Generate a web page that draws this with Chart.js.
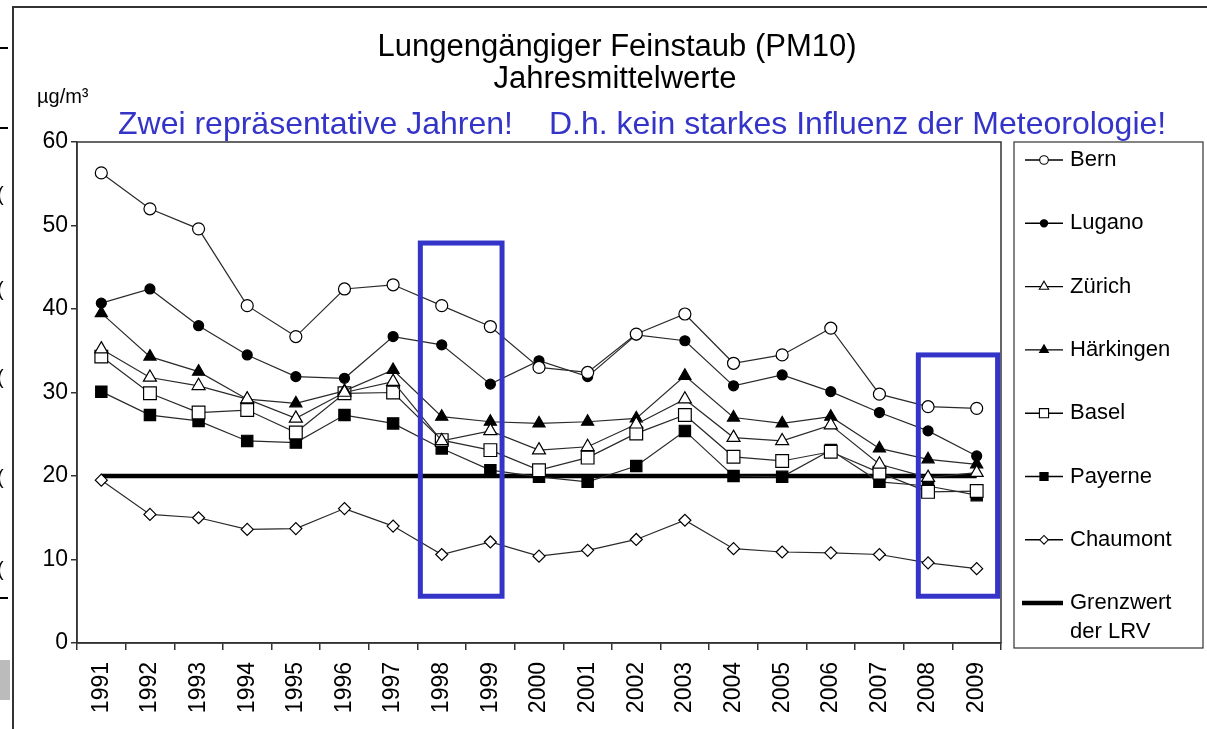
<!DOCTYPE html>
<html>
<head>
<meta charset="utf-8">
<script src="https://cdn.jsdelivr.net/npm/chart.js@4.4.1/dist/chart.umd.min.js"></script>
<style>
  html, body { margin: 0; padding: 0; background: #fff; }
  #wrap { position: relative; width: 1207px; height: 729px; }
</style>
</head>
<body>
<div id="wrap"><canvas id="pmChart" width="1207" height="729"></canvas></div>
<script>
// Daten: Jahresmittelwerte PM10 (µg/m³)
const years = ['1991','1992','1993','1994','1995','1996','1997','1998','1999','2000',
               '2001','2002','2003','2004','2005','2006','2007','2008','2009'];
const bern      = [56.3, 52.0, 49.6, 40.4, 36.7, 42.4, 42.9, 40.4, 37.9, 33.0, 32.4, 37.0, 39.4, 33.5, 34.5, 37.7, 29.8, 28.3, 28.1];
const lugano    = [40.7, 42.4, 38.0, 34.5, 31.9, 31.7, 36.7, 35.7, 31.0, 33.8, 31.9, 36.9, 36.2, 30.8, 32.1, 30.1, 27.6, 25.4, 22.4];
const zuerich   = [35.2, 31.8, 30.8, 29.2, 26.9, 30.0, 31.3, 24.2, 25.4, 23.1, 23.5, 26.2, 29.2, 24.6, 24.2, 26.1, 21.4, 19.8, 20.4];
const haerkingen= [39.5, 34.3, 32.5, 29.2, 28.7, 30.2, 32.7, 27.1, 26.5, 26.3, 26.5, 26.9, 32.0, 27.0, 26.3, 27.1, 23.3, 22.0, 21.4];
const basel     = [34.3, 29.9, 27.6, 27.9, 25.2, 29.9, 30.0, 24.3, 23.1, 20.7, 22.2, 25.1, 27.3, 22.3, 21.8, 22.9, 20.4, 18.1, 18.2];
const payerne   = [30.1, 27.3, 26.6, 24.2, 24.0, 27.3, 26.3, 23.3, 20.7, 19.9, 19.3, 21.2, 25.4, 20.0, 19.9, 23.1, 19.3, 18.8, 17.7];
const chaumont  = [19.5, 15.4, 15.0, 13.6, 13.7, 16.1, 14.0, 10.6, 12.1, 10.4, 11.1, 12.4, 14.7, 11.3, 10.9, 10.8, 10.6,  9.6,  8.9];
const grenzwert = [20, 20, 20, 20, 20, 20, 20, 20, 20, 20, 20, 20, 20, 20, 20, 20, 20, 20, 20];
const yTicks = [0, 10, 20, 30, 40, 50, 60];

// blaue Markierungsrahmen (Kategorie-Index bzw. Wert)
const boxStart  = [6.56, 16.8];
const boxEnd    = [8.24, 18.43];
const boxTop    = [47.9, 34.5];
const boxBottom = [5.6, 5.6];

const FONT = "'Liberation Sans', Arial, sans-serif";
const BLUE = '#3434c8';

function series(label, data, style, radius, filled) {
  return {
    label: label,
    data: data,
    borderColor: '#2a2a2a',
    borderWidth: 1.2,
    pointStyle: style,
    pointRadius: radius,
    pointHoverRadius: radius,
    pointBackgroundColor: filled ? '#000' : '#fff',
    pointBorderColor: '#000',
    pointBorderWidth: 1.2,
    tension: 0
  };
}

const datasets = [
  series('Bern', bern, 'circle', 6, false),
  series('Lugano', lugano, 'circle', 5, true),
  series('Zürich', zuerich, 'triangle', 7.5, false),
  series('Härkingen', haerkingen, 'triangle', 7, true),
  series('Basel', basel, 'rect', 9, false),
  series('Payerne', payerne, 'rect', 8, true),
  series('Chaumont', chaumont, 'rectRot', 6, false),
  {
    label: 'Grenzwert der LRV',
    data: grenzwert,
    borderColor: '#000',
    borderWidth: 4.5,
    pointRadius: 0,
    pointHoverRadius: 0,
    tension: 0
  }
];

// Seitenrahmen, Titel, Plotrahmen, blaue Rahmen, Legende
const decorPlugin = {
  id: 'decor',
  afterDraw(chart) {
    const ctx = chart.ctx;
    const a = chart.chartArea;
    const xs = chart.scales.x, ys = chart.scales.y;
    ctx.save();

    // Folienrahmen
    ctx.strokeStyle = '#333';
    ctx.lineWidth = 2;
    ctx.beginPath();
    ctx.moveTo(13, 729); ctx.lineTo(13, 7); ctx.lineTo(1207, 7);
    ctx.stroke();
    ctx.fillStyle = '#000';
    [48, 128, 598].forEach(y => ctx.fillRect(0, y - 1, 8, 2));
    ctx.fillStyle = '#bbb';
    ctx.fillRect(0, 660, 10, 40);
    ctx.fillStyle = '#000';
    ctx.font = '20px ' + FONT;
    ctx.textAlign = 'left';
    ctx.textBaseline = 'middle';
    [195, 290, 378, 478, 570].forEach(y => ctx.fillText('(', -3, y));

    // Plotrahmen
    ctx.strokeStyle = '#333';
    ctx.lineWidth = 1.5;
    ctx.strokeRect(a.left, a.top, a.right - a.left, a.bottom - a.top);

    // Titel
    ctx.fillStyle = '#000';
    ctx.textAlign = 'center';
    ctx.textBaseline = 'alphabetic';
    ctx.font = '31px ' + FONT;
    ctx.fillText('Lungengängiger Feinstaub (PM10)', 617, 56);
    ctx.fillText('Jahresmittelwerte', 615, 88);
    ctx.textAlign = 'left';
    ctx.font = '20px ' + FONT;
    ctx.fillText('µg/m³', 37, 103);

    ctx.fillStyle = BLUE;
    ctx.font = '32px ' + FONT;
    ctx.fillText('Zwei repräsentative Jahren!', 118, 134);
    ctx.fillText('D.h. kein starkes Influenz der Meteorologie!', 549, 134);

    // blaue Rahmen
    ctx.strokeStyle = BLUE;
    ctx.lineWidth = 5;
    for (let i = 0; i < boxStart.length; i++) {
      const x1 = xs.getPixelForValue(boxStart[i]);
      const x2 = xs.getPixelForValue(boxEnd[i]);
      const y1 = ys.getPixelForValue(boxTop[i]);
      const y2 = ys.getPixelForValue(boxBottom[i]);
      ctx.strokeRect(x1, y1, x2 - x1, y2 - y1);
    }

    // Legende
    const lx = a.right + 13, ly = a.top, lw = 189, lh = 506;
    ctx.strokeStyle = '#333';
    ctx.lineWidth = 1.2;
    ctx.strokeRect(lx, ly, lw, lh);
    ctx.font = '22px ' + FONT;
    ctx.textBaseline = 'middle';
    chart.data.datasets.forEach((ds, i) => {
      const cy = ly + 18 + i * 63.3;
      ctx.strokeStyle = '#000';
      ctx.lineWidth = ds.pointRadius ? 1.4 : ds.borderWidth;
      ctx.beginPath();
      ctx.moveTo(lx + (ds.pointRadius ? 11 : 8), cy);
      ctx.lineTo(lx + 49, cy);
      ctx.stroke();
      if (ds.pointRadius) {
        ctx.fillStyle = ds.pointBackgroundColor;
        ctx.strokeStyle = '#000';
        ctx.lineWidth = 1.1;
        Chart.helpers.drawPoint(ctx, {
          pointStyle: ds.pointStyle,
          radius: ds.pointRadius * 0.72,
          rotation: 0,
          borderWidth: 1.1
        }, lx + 30, cy);
      }
      ctx.fillStyle = '#000';
      if (ds.label === 'Grenzwert der LRV') {
        ctx.fillText('Grenzwert', lx + 56, cy);
        ctx.fillText('der LRV', lx + 56, cy + 29);
      } else {
        ctx.fillText(ds.label, lx + 56, cy);
      }
    });
    ctx.restore();
  }
};

const ctx = document.getElementById('pmChart').getContext('2d');
new Chart(ctx, {
  type: 'line',
  data: { labels: years, datasets: datasets },
  options: {
    responsive: false,
    animation: false,
    events: [],
    layout: { padding: { left: 0, top: 142, right: 206, bottom: 0 } },
    plugins: {
      legend: { display: false },
      title: { display: false },
      tooltip: { enabled: false }
    },
    scales: {
      x: {
        type: 'category',
        offset: true,
        grid: { offset: true, drawOnChartArea: false, drawTicks: true, tickLength: 7, color: '#333', lineWidth: 1.5 },
        border: { display: true, color: '#333', width: 1.5 },
        ticks: {
          color: '#000',
          font: { family: FONT, size: 23 },
          minRotation: 90,
          maxRotation: 90,
          padding: 12,
          autoSkip: false
        },
        afterFit(scale) { scale.height = 86; }
      },
      y: {
        min: 0,
        max: 60,
        afterBuildTicks(scale) { scale.ticks = yTicks.map(v => ({ value: v })); },
        grid: { drawOnChartArea: false, drawTicks: true, tickLength: 6, color: '#333', lineWidth: 1.5 },
        border: { display: true, color: '#333', width: 1.5 },
        ticks: {
          color: '#000',
          font: { family: FONT, size: 23 },
          padding: 3
        },
        afterFit(scale) { scale.width = 77; }
      }
    }
  },
  plugins: [decorPlugin]
});
</script>
</body>
</html>
